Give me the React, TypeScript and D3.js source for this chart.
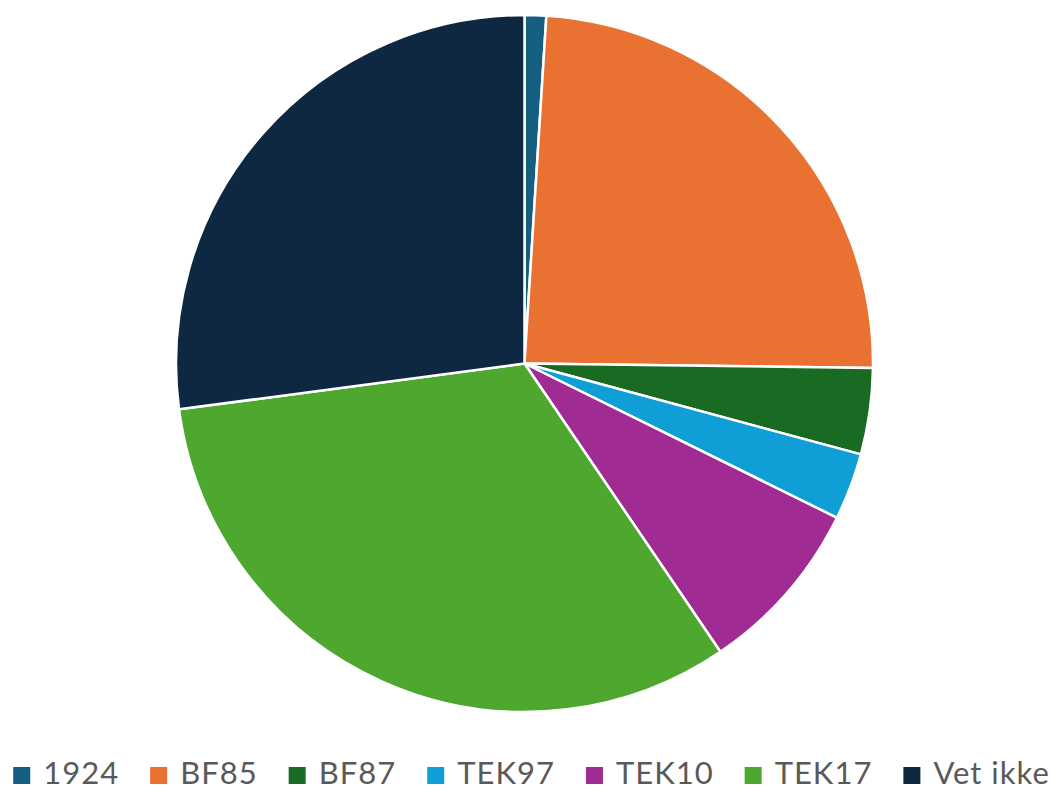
import React, { useEffect, useRef } from "react";
import * as d3 from "d3";

// Byggeforskrift – share of answers (percent)
const categories = ["1924", "BF85", "BF87", "TEK97", "TEK10", "TEK17", "Vet ikke"];
const shares = [1.0, 24.2, 4.0, 3.1, 8.2, 32.4, 27.1];
const colors = ["#156082", "#E97132", "#196B24", "#0F9ED5", "#A02B93", "#4EA72E", "#0E2841"];

const W = 1053;
const H = 790;

const App = () => {
  const ref = useRef<SVGSVGElement>(null);

  useEffect(() => {
    const svg = d3.select(ref.current);
    svg.selectAll("*").remove();

    const cx = 524.5;
    const cy = 363.5;
    const radius = 348.5;

    const data = categories.map((c, i) => ({ name: c, value: shares[i], color: colors[i] }));

    const pie = d3
      .pie<any>()
      .value((d) => d.value)
      .sort(null);
    const arc = d3.arc<any>().innerRadius(0).outerRadius(radius);

    svg
      .append("g")
      .attr("transform", `translate(${cx},${cy})`)
      .selectAll("path")
      .data(pie(data))
      .join("path")
      .attr("d", arc)
      .attr("fill", (d) => d.data.color)
      .attr("stroke", "#fff")
      .attr("stroke-width", 2.5)
      .attr("stroke-linejoin", "round");

    // Legend, one row centred below the pie
    const legend = svg.append("g");
    const sq = 17;
    const gapText = 13;
    const gapItem = 31;
    const items = legend
      .selectAll("g")
      .data(data)
      .join("g");
    items
      .append("rect")
      .attr("width", sq)
      .attr("height", sq)
      .attr("y", -sq + 1)
      .attr("fill", (d) => d.color);
    items
      .append("text")
      .attr("x", sq + gapText)
      .attr("y", 1)
      .attr("font-family", "Lato, 'Noto Sans', sans-serif")
      .attr("font-size", 31)
      .attr("letter-spacing", 1)
      .attr("fill", "#595959")
      .text((d) => d.name);

    let x = 0;
    const offsets: number[] = [];
    items.each(function () {
      offsets.push(x);
      const t = d3.select(this).select("text").node() as SVGTextElement;
      x += sq + gapText + t.getBBox().width + gapItem;
    });
    const total = x - gapItem;
    items.attr("transform", (_, i) => `translate(${offsets[i]},0)`);
    legend.attr("transform", `translate(${(W - total) / 2 + 5},783)`);
  }, []);

  return (
    <svg
      ref={ref}
      width={W}
      height={H}
      style={{ position: "absolute", left: 0, top: 0, background: "#fff" }}
    />
  );
};

export default App;
